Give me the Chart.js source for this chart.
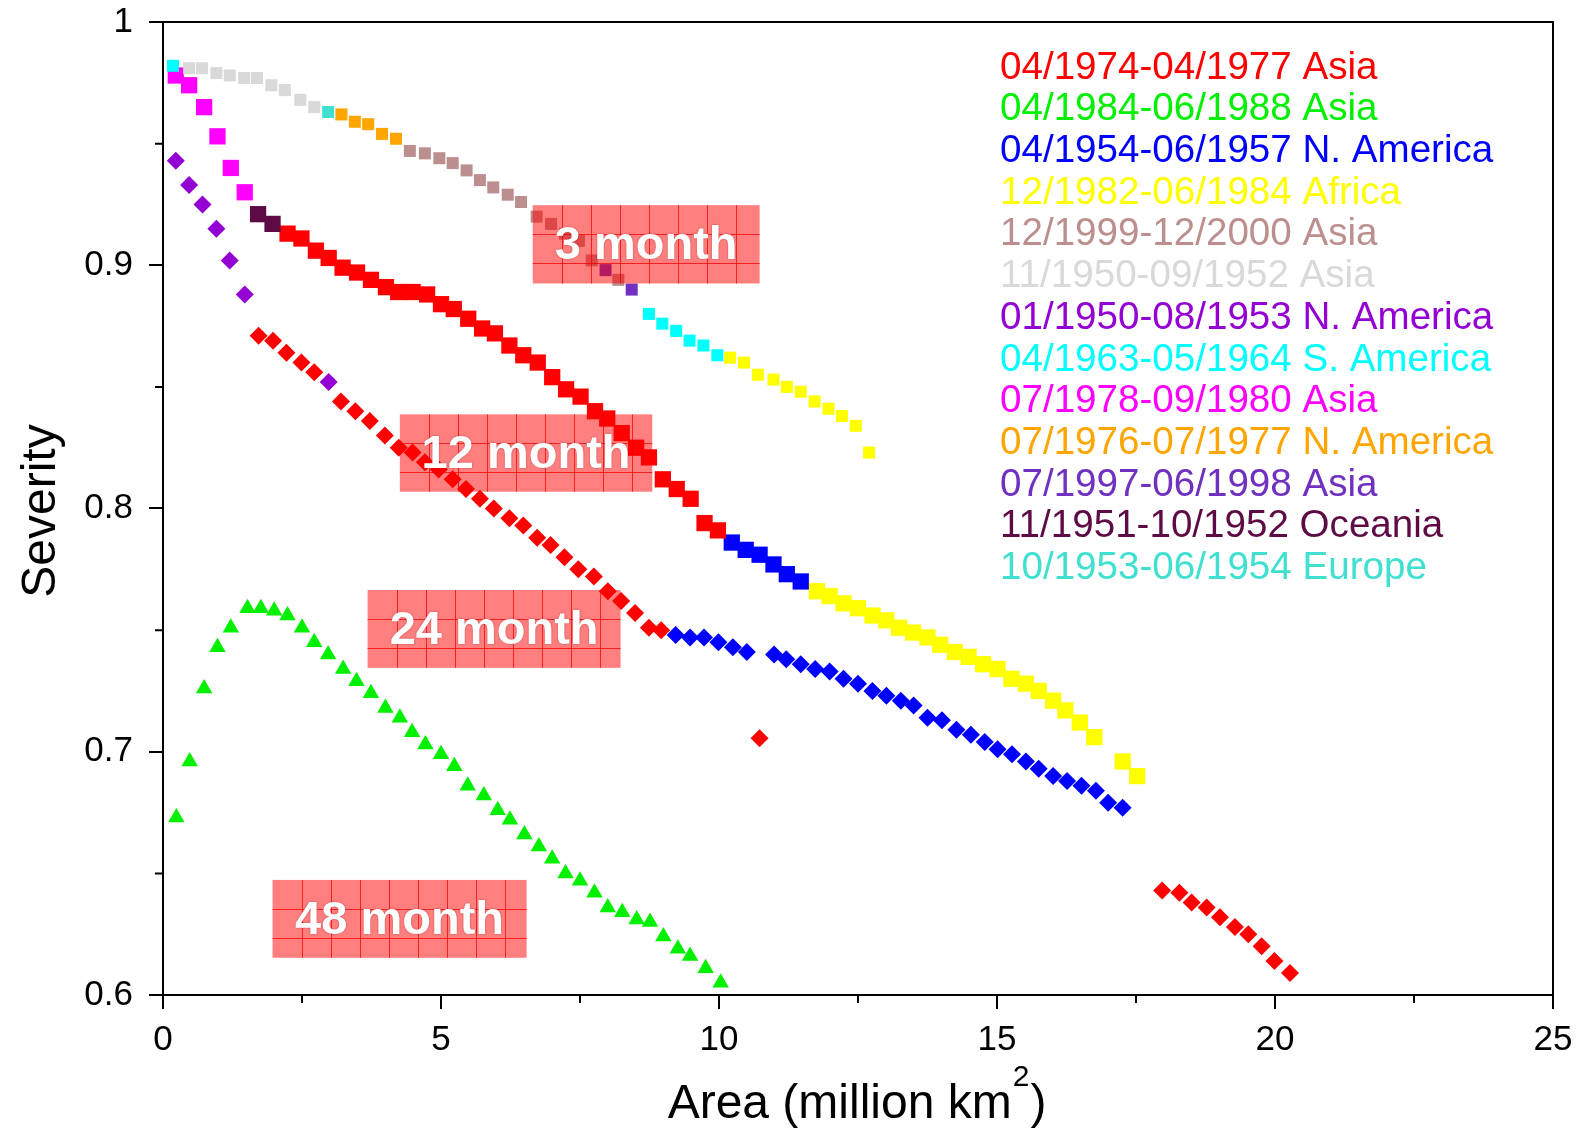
<!DOCTYPE html>
<html>
<head>
<meta charset="utf-8">
<script src="https://cdn.jsdelivr.net/npm/chart.js@4.4.1/dist/chart.umd.min.js"></script>
<style>
html,body{margin:0;padding:0;background:#fff;}
#wrap{position:relative;width:1583px;height:1129px;}
canvas{display:block;}
</style>
</head>
<body>
<div id="wrap"><canvas id="c" width="1583" height="1129"></canvas></div>
<script>
// ---------------- DATA ----------------
// 3-month curve (small squares)
const m3CyanStartX = [0.18];
const m3CyanStartY = [0.982];
const m3GrayX = [0.47,0.70,0.96,1.20,1.46,1.69,1.95,2.19,2.47,2.72];
const m3GrayY = [0.981,0.981,0.979,0.978,0.977,0.977,0.974,0.972,0.968,0.965];
const m3TurqX = [2.97];
const m3TurqY = [0.963];
const m3OrangeX = [3.21,3.45,3.69,3.94,4.19];
const m3OrangeY = [0.962,0.959,0.958,0.954,0.952];
const m3BrownX = [4.44,4.71,4.97,5.21,5.46,5.70,5.94,6.20,6.44,6.72,6.98,7.23,7.48,7.71,8.19];
const m3BrownY = [0.947,0.946,0.944,0.942,0.939,0.935,0.932,0.929,0.926,0.920,0.917,0.913,0.910,0.902,0.894];
const m3PurpleX = [7.96,8.43];
const m3PurpleY = [0.898,0.890];
const m3CyanX = [8.74,8.98,9.23,9.47,9.72,9.97];
const m3CyanY = [0.880,0.876,0.873,0.869,0.867,0.863];
const m3YellowX = [10.20,10.45,10.70,10.98,11.22,11.47,11.72,11.97,12.21,12.46,12.70];
const m3YellowY = [0.862,0.860,0.855,0.853,0.850,0.848,0.844,0.841,0.838,0.834,0.823];

// 12-month curve (large squares)
const m12MagentaX = [0.23,0.47,0.74,0.98,1.22,1.47];
const m12MagentaY = [0.978,0.974,0.965,0.953,0.940,0.930];
const m12MaroonX = [1.71,1.97];
const m12MaroonY = [0.921,0.917];
const m12RedX = [2.24,2.49,2.75,2.98,3.23,3.49,3.74,4.01,4.23,4.49,4.75,5.00,5.23,5.49,5.74,5.97,6.23,6.48,6.74,7.00,7.25,7.51,7.77,7.99,8.25,8.51,8.74,8.99,9.24,9.49,9.74,9.98];
const m12RedY = [0.913,0.911,0.906,0.903,0.899,0.897,0.894,0.891,0.889,0.889,0.888,0.884,0.882,0.878,0.874,0.872,0.867,0.863,0.860,0.854,0.849,0.846,0.840,0.837,0.831,0.825,0.821,0.812,0.808,0.804,0.794,0.791];
const m12BlueX = [10.23,10.48,10.73,10.98,11.22,11.47];
const m12BlueY = [0.786,0.783,0.781,0.777,0.773,0.770];
const m12YellowX = [11.76,11.99,12.24,12.50,12.76,13.01,13.24,13.49,13.75,13.98,14.24,14.49,14.75,15.01,15.26,15.52,15.75,16.01,16.23,16.49,16.75,17.26,17.52];
const m12YellowY = [0.766,0.764,0.761,0.759,0.756,0.754,0.751,0.749,0.747,0.744,0.741,0.739,0.736,0.734,0.730,0.728,0.725,0.721,0.717,0.712,0.706,0.696,0.690];

// 24-month curve (diamonds)
const m24VioletX = [0.23,0.47,0.71,0.96,1.20,1.47,2.98];
const m24VioletY = [0.943,0.933,0.925,0.915,0.902,0.888,0.852];
const m24RedX = [1.72,1.98,2.22,2.49,2.72,3.20,3.46,3.72,3.99,4.24,4.49,4.71,4.96,5.21,5.45,5.70,5.95,6.23,6.48,6.73,6.97,7.22,7.47,7.75,8.00,8.24,8.49,8.74,8.96,10.73,17.97,18.28,18.50,18.77,19.01,19.28,19.52,19.76,19.99,20.27];
const m24RedY = [0.871,0.869,0.864,0.860,0.856,0.844,0.840,0.836,0.830,0.825,0.823,0.819,0.816,0.812,0.808,0.804,0.800,0.796,0.793,0.788,0.785,0.780,0.775,0.772,0.766,0.762,0.757,0.751,0.750,0.7055,0.643,0.642,0.638,0.636,0.632,0.628,0.625,0.620,0.614,0.609];
const m24BlueX = [9.22,9.48,9.73,9.99,10.25,10.50,10.99,11.21,11.47,11.73,11.99,12.24,12.50,12.76,13.01,13.27,13.50,13.75,14.01,14.27,14.53,14.78,15.01,15.27,15.52,15.75,16.01,16.26,16.52,16.78,17.00,17.26];
const m24BlueY = [0.748,0.747,0.747,0.745,0.743,0.741,0.740,0.738,0.736,0.734,0.733,0.730,0.728,0.725,0.723,0.721,0.719,0.714,0.713,0.709,0.707,0.704,0.701,0.699,0.696,0.693,0.690,0.688,0.686,0.684,0.679,0.677];

// 48-month curve (triangles)
const m48GreenX = [0.24,0.48,0.74,0.98,1.22,1.52,1.76,2.00,2.24,2.50,2.72,2.97,3.24,3.48,3.74,4.00,4.26,4.48,4.72,5.00,5.24,5.48,5.77,6.02,6.24,6.50,6.76,7.00,7.24,7.50,7.76,8.00,8.26,8.52,8.76,9.00,9.26,9.48,9.76,10.03];
const m48GreenY = [0.673,0.696,0.726,0.743,0.751,0.759,0.759,0.758,0.756,0.751,0.745,0.740,0.734,0.729,0.724,0.718,0.714,0.708,0.703,0.699,0.694,0.686,0.682,0.676,0.672,0.666,0.661,0.656,0.650,0.647,0.642,0.636,0.634,0.631,0.630,0.624,0.619,0.616,0.611,0.605];

// Legend
const legendLabels = [
  '04/1974-04/1977 Asia','04/1984-06/1988 Asia','04/1954-06/1957 N. America',
  '12/1982-06/1984 Africa','12/1999-12/2000 Asia','11/1950-09/1952 Asia',
  '01/1950-08/1953 N. America','04/1963-05/1964 S. America','07/1978-09/1980 Asia',
  '07/1976-07/1977 N. America','07/1997-06/1998 Asia','11/1951-10/1952 Oceania',
  '10/1953-06/1954 Europe'
];
const C = {
  red:'#ff0000', green:'#00f000', blue:'#0000ff', yellow:'#ffff00', brown:'#bc8f8f',
  gray:'#d9d9d9', violet:'#9400d3', cyan:'#00ffff', magenta:'#ff00ff', orange:'#ffa500',
  purple:'#7030c0', maroon:'#5e0b45', turq:'#40e0d0'
};
const legendColors = [C.red,C.green,C.blue,C.yellow,C.brown,C.gray,C.violet,C.cyan,C.magenta,C.orange,C.purple,C.maroon,C.turq];

// Period labels
const periodLabels = ['3 month','12 month','24 month','48 month'];

// ---------------- CHART ----------------
const FONT = '"Liberation Sans", Arial, Helvetica, sans-serif';
function pts(xs, ys){ return xs.map((x,i)=>({x:x, y:ys[i]})); }
function ds(label, xs, ys, color, style, r){
  return {label, data: pts(xs,ys), backgroundColor: color, borderColor: color, borderWidth: 0,
    pointStyle: style, pointRadius: r, pointHoverRadius: r, showLine: false};
}
const SQ_S = 8.5, SQ_L = 11.5, DIA = 9, TRI = 9.5;
const datasets = [
  ds('3m cyan start', m3CyanStartX, m3CyanStartY, C.cyan, 'rect', SQ_S),
  ds('3m gray', m3GrayX, m3GrayY, C.gray, 'rect', SQ_S),
  ds('3m turq', m3TurqX, m3TurqY, C.turq, 'rect', SQ_S),
  ds('3m orange', m3OrangeX, m3OrangeY, C.orange, 'rect', SQ_S),
  ds('3m brown', m3BrownX, m3BrownY, C.brown, 'rect', SQ_S),
  ds('3m purple', m3PurpleX, m3PurpleY, C.purple, 'rect', SQ_S),
  ds('3m cyan', m3CyanX, m3CyanY, C.cyan, 'rect', SQ_S),
  ds('3m yellow', m3YellowX, m3YellowY, C.yellow, 'rect', SQ_S),
  ds('12m magenta', m12MagentaX, m12MagentaY, C.magenta, 'rect', SQ_L),
  ds('12m maroon', m12MaroonX, m12MaroonY, C.maroon, 'rect', SQ_L),
  ds('12m red', m12RedX, m12RedY, C.red, 'rect', SQ_L),
  ds('12m blue', m12BlueX, m12BlueY, C.blue, 'rect', SQ_L),
  ds('12m yellow', m12YellowX, m12YellowY, C.yellow, 'rect', SQ_L),
  ds('24m violet', m24VioletX, m24VioletY, C.violet, 'rectRot', DIA),
  ds('24m red', m24RedX, m24RedY, C.red, 'rectRot', DIA),
  ds('24m blue', m24BlueX, m24BlueY, C.blue, 'rectRot', DIA),
  ds('48m green', m48GreenX, m48GreenY, C.green, 'triangle', TRI)
];

const boxes = [
  {x0:6.65, x1:10.73, y0:0.9247, y1:0.8925},
  {x0:4.26, x1:8.80, y0:0.8387, y1:0.8069},
  {x0:3.68, x1:8.23, y0:0.7665, y1:0.7345},
  {x0:1.97, x1:6.54, y0:0.6473, y1:0.6153}
];

const decor = {
  id: 'decor',
  afterDatasetsDraw(chart){
    const ctx = chart.ctx, xs = chart.scales.x, ys = chart.scales.y;
    ctx.save();
    boxes.forEach((b,i)=>{
      const L = xs.getPixelForValue(b.x0), R = xs.getPixelForValue(b.x1);
      const T = ys.getPixelForValue(b.y0), B = ys.getPixelForValue(b.y1);
      ctx.fillStyle = 'rgba(255,0,0,0.5)';
      ctx.fillRect(L, T, R-L, B-T);
      ctx.strokeStyle = 'rgba(240,0,0,0.75)';
      ctx.lineWidth = 1;
      ctx.beginPath();
      for (let x = L + 29; x < R - 2; x += 29){ ctx.moveTo(Math.round(x)+0.5, T); ctx.lineTo(Math.round(x)+0.5, B); }
      for (let y = T + 29; y < B - 2; y += 29){ ctx.moveTo(L, Math.round(y)+0.5); ctx.lineTo(R, Math.round(y)+0.5); }
      ctx.stroke();
      ctx.fillStyle = '#ffffff';
      ctx.font = 'bold 47px ' + FONT;
      ctx.textAlign = 'center';
      ctx.textBaseline = 'middle';
      ctx.shadowColor = 'rgba(120,0,0,0.5)';
      ctx.shadowBlur = 2;
      ctx.fillText(periodLabels[i], (L+R)/2, (T+B)/2 + 2);
      ctx.shadowBlur = 0; ctx.shadowColor = 'transparent';
    });
    ctx.restore();
  },
  afterDraw(chart){
    const ctx = chart.ctx, a = chart.chartArea, xs = chart.scales.x, ys = chart.scales.y;
    ctx.save();
    // frame
    ctx.strokeStyle = '#000'; ctx.lineWidth = 2;
    ctx.strokeRect(a.left, a.top, a.right - a.left, a.bottom - a.top);
    // minor ticks
    ctx.beginPath();
    [2.5,7.5,12.5,17.5,22.5].forEach(v=>{
      const x = xs.getPixelForValue(v);
      ctx.moveTo(x, a.bottom); ctx.lineTo(x, a.bottom + 8);
    });
    [0.65,0.75,0.85,0.95].forEach(v=>{
      const y = ys.getPixelForValue(v);
      ctx.moveTo(a.left, y); ctx.lineTo(a.left - 8, y);
    });
    ctx.stroke();
    // legend
    ctx.font = '38.6px ' + FONT;
    ctx.textAlign = 'left'; ctx.textBaseline = 'middle';
    legendLabels.forEach((t,i)=>{
      ctx.fillStyle = legendColors[i];
      ctx.fillText(t, 1000, 68 + i*41.7);
    });
    // axis titles
    ctx.fillStyle = '#000';
    ctx.font = '48px ' + FONT;
    ctx.save();
    ctx.translate(42, 511);
    ctx.rotate(-Math.PI/2);
    ctx.textAlign = 'center'; ctx.textBaseline = 'middle';
    ctx.fillText('Severity', 0, 0);
    ctx.restore();
    const main = 'Area (million km', sup = '2', close = ')';
    ctx.textBaseline = 'alphabetic'; ctx.textAlign = 'left';
    ctx.font = '48px ' + FONT;
    const w1 = ctx.measureText(main).width, w3 = ctx.measureText(close).width;
    ctx.font = '30px ' + FONT;
    const w2 = ctx.measureText(sup).width;
    const total = w1 + w2 + w3 + 2;
    let x0 = 857 - total/2;
    ctx.font = '48px ' + FONT;
    ctx.fillText(main, x0, 1118);
    ctx.font = '30px ' + FONT;
    ctx.fillText(sup, x0 + w1 + 1, 1086);
    ctx.font = '48px ' + FONT;
    ctx.fillText(close, x0 + w1 + w2 + 2, 1118);
    ctx.restore();
  }
};

new Chart(document.getElementById('c'), {
  type: 'scatter',
  data: { datasets },
  options: {
    responsive: false,
    devicePixelRatio: 1,
    animation: false,
    events: [],
    layout: { padding: { top: 22, right: 30, left: 0, bottom: 0 } },
    plugins: { legend: { display: false }, tooltip: { enabled: false }, title: { display: false } },
    scales: {
      x: {
        type: 'linear', min: 0, max: 25, position: 'bottom',
        ticks: { stepSize: 5, color: '#000', font: { family: FONT, size: 35 }, padding: 10, maxRotation: 0, autoSkip: false },
        grid: { display: true, drawOnChartArea: false, drawTicks: true, tickLength: 14, color: '#000', lineWidth: 2 },
        border: { display: true, color: '#000', width: 2 },
        afterFit(s){ s.height = 134; s.paddingLeft = 0; s.paddingRight = 0; }
      },
      y: {
        type: 'linear', min: 0.6, max: 1,
        ticks: { stepSize: 0.1, color: '#000', font: { family: FONT, size: 35 }, padding: 16,
          callback: v => String(+v.toFixed(1)) },
        grid: { display: true, drawOnChartArea: false, drawTicks: true, tickLength: 14, color: '#000', lineWidth: 2 },
        border: { display: true, color: '#000', width: 2 },
        afterFit(s){ s.width = 163; s.paddingTop = 0; s.paddingBottom = 0; }
      }
    }
  },
  plugins: [decor]
});
</script>
</body>
</html>
